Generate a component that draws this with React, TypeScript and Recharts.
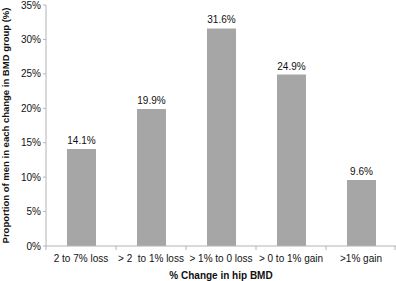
import { BarChart, Bar, XAxis, YAxis, LabelList, Label } from 'recharts'

const categories = ['2 to 7% loss', '> 2  to 1% loss', '> 1% to 0 loss', '> 0 to 1% gain', '>1% gain']
const shares = [14.1, 19.9, 31.6, 24.9, 9.6]
const yTicks = [0, 5, 10, 15, 20, 25, 30, 35]

const data = categories.map((group, i) => ({ group, share: shares[i] }))

const AXIS_COLOR = '#b4b4b4'
const BAR_COLOR = '#a6a6a6'
const FONT = '"Liberation Sans", Arial, sans-serif'
const BAND = (396 - 46) / categories.length

// category ticks sit between bars, labels in the middle
function GroupTick(props: any) {
  const { x, y, payload, index } = props
  const left = x - BAND / 2
  return (
    <g>
      <line x1={left} y1={y - 8} x2={left} y2={y - 4} stroke={AXIS_COLOR} />
      {index === categories.length - 1 && (
        <line x1={left + BAND - 1} y1={y - 8} x2={left + BAND - 1} y2={y - 4} stroke={AXIS_COLOR} />
      )}
      <text
        x={x}
        y={y + 8}
        textAnchor="middle"
        fontSize={10}
        fill="#111"
        fontFamily={FONT}
        style={{ whiteSpace: 'pre' }}
      >
        {payload.value}
      </text>
    </g>
  )
}

export default function App() {
  return (
    <div style={{ position: 'absolute', left: 0, top: 0, background: '#fff' }}>
      <BarChart
        width={396}
        height={281}
        data={data}
        margin={{ top: 5, right: 0, bottom: 0, left: 0 }}
        barSize={29}
      >
        <XAxis
          dataKey="group"
          stroke={AXIS_COLOR}
          tickLine={false}
          tick={<GroupTick />}
          interval={0}
          height={35}
        >
          <Label
            value="% Change in hip BMD"
            position="insideBottom"
            offset={2}
            style={{ fontSize: 10, fontWeight: 'bold', fill: '#111', fontFamily: FONT }}
          />
        </XAxis>
        <YAxis
          width={46}
          domain={[0, 35]}
          ticks={yTicks}
          tickFormatter={(v: number) => `${v}%`}
          stroke={AXIS_COLOR}
          tickSize={3}
          tick={{ fontSize: 10, fill: '#111', fontFamily: FONT }}
        >
          <Label
            value="Proportion of men in each change in BMD group (%)"
            angle={-90}
            position="insideLeft"
            offset={6}
            style={{ textAnchor: 'middle', fontSize: 9.5, fontWeight: 'bold', fill: '#111', fontFamily: FONT }}
          />
        </YAxis>
        <Bar dataKey="share" fill={BAR_COLOR} isAnimationActive={false}>
          <LabelList
            dataKey="share"
            position="top"
            offset={5}
            formatter={(v: number) => `${v}%`}
            style={{ fontSize: 10, fill: '#111', fontFamily: FONT }}
          />
        </Bar>
      </BarChart>
    </div>
  )
}
